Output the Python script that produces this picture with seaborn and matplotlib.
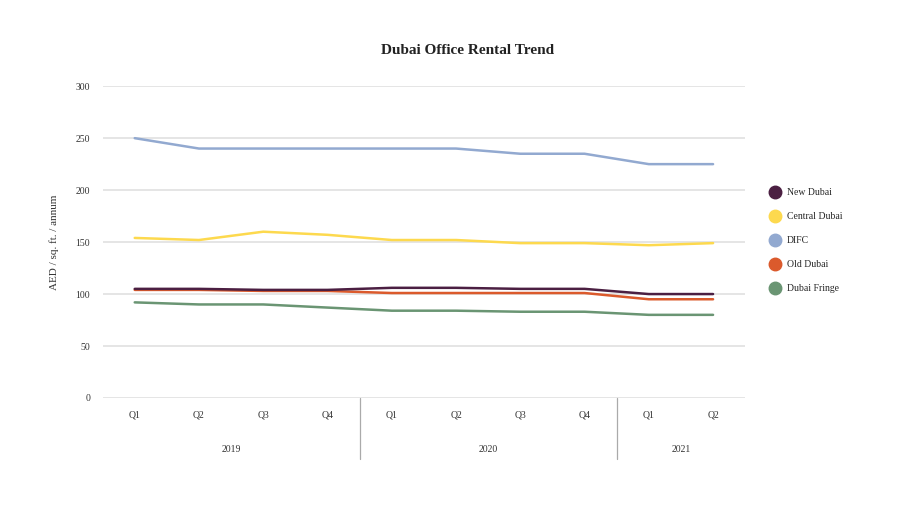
import pandas as pd
import numpy as np
import matplotlib
matplotlib.use("Agg")
import matplotlib.pyplot as plt
import seaborn as sns
from matplotlib.lines import Line2D

quarters = ["Q1", "Q2", "Q3", "Q4", "Q1", "Q2", "Q3", "Q4", "Q1", "Q2"]
years = ["2019", "2020", "2021"]
year_len = [4, 4, 2]

new_dubai = [105, 105, 104, 104, 106, 106, 105, 105, 100, 100]
central_dubai = [154, 152, 160, 157, 152, 152, 149, 149, 147, 149]
difc = [250, 240, 240, 240, 240, 240, 235, 235, 225, 225]
old_dubai = [104, 104, 103, 103, 101, 101, 101, 101, 95, 95]
dubai_fringe = [92, 90, 90, 87, 84, 84, 83, 83, 80, 80]

series = {
    "New Dubai": new_dubai,
    "Central Dubai": central_dubai,
    "DIFC": difc,
    "Old Dubai": old_dubai,
    "Dubai Fringe": dubai_fringe,
}
colors = {
    "New Dubai": "#4b1f42",
    "Central Dubai": "#fdd94e",
    "DIFC": "#92a9d0",
    "Old Dubai": "#db5a2c",
    "Dubai Fringe": "#6a9573",
}

rows = []
for name, vals in series.items():
    for i, v in enumerate(vals):
        rows.append({"pos": i, "value": v, "region": name})
df = pd.DataFrame(rows)

sns.set_style("white")
plt.rcParams["font.family"] = ["Liberation Serif", "DejaVu Serif"]

fig = plt.figure(figsize=(9, 5.07), dpi=100)
ax = fig.add_axes([0.114, 0.215, 0.714, 0.615])

# draw in reverse so New Dubai sits on top like the reference
order = ["Dubai Fringe", "Old Dubai", "DIFC", "Central Dubai", "New Dubai"]
sns.lineplot(data=df, x="pos", y="value", hue="region", hue_order=order,
             palette=colors, linewidth=1.8, ax=ax, legend=False)

ax.set_xlim(-0.5, 9.5)
ax.set_ylim(0, 300)
ax.set_yticks(range(0, 301, 50))
ax.yaxis.grid(True, color="#e3e3e3", linewidth=1.3)
ax.set_axisbelow(True)
for s in ax.spines.values():
    s.set_visible(False)
ax.tick_params(axis="y", length=0, labelsize=7, colors="#333333", pad=9)
ax.set_xticks(range(len(quarters)))
ax.set_xticklabels(quarters, fontsize=7, color="#333333")
ax.tick_params(axis="x", length=0, pad=9)
ax.set_xlabel("")
ax.set_ylabel("AED / sq. ft. / annum", fontsize=8, color="#333333", labelpad=12)

# year labels and separators under the quarter labels
start = 0
for yr, n in zip(years, year_len):
    mid = start + (n - 1) / 2
    ax.text(mid, -0.165, yr, transform=ax.get_xaxis_transform(),
            ha="center", va="center", fontsize=7, color="#333333")
    if start > 0:
        ax.plot([start - 0.5, start - 0.5], [0, -0.195],
                transform=ax.get_xaxis_transform(), clip_on=False,
                color="#aaaaaa", linewidth=0.9)
    start += n

fig.text(0.519, 0.9, "Dubai Office Rental Trend", ha="center", va="center",
         fontsize=11, fontweight="bold", color="#222222")

handles = [Line2D([0], [0], marker="o", linestyle="", markersize=9,
                  markerfacecolor=colors[n], markeredgecolor=colors[n])
           for n in series]
fig.legend(handles, list(series.keys()), loc="center left",
           bbox_to_anchor=(0.845, 0.525), frameon=False, fontsize=7,
           labelspacing=1.55, handletextpad=0.6, handlelength=1.2)

fig.savefig("out.png", dpi=100)
